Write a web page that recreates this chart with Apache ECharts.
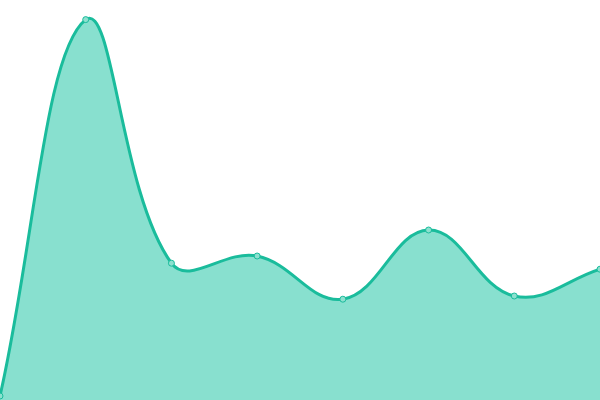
<!DOCTYPE html>
<html>
<head>
<meta charset="utf-8">
<script src="https://cdn.jsdelivr.net/npm/echarts@6/dist/echarts.min.js"></script>
<style>
    html, body { margin: 0; padding: 0; background: #fff; }
    #chart { width: 600px; height: 400px; }
</style>
</head>
<body>
<div id="chart"></div>
<script>
// data
var categories = ["1", "2", "3", "4", "5", "6", "7", "8"];
var values = [1, 95.1, 34.2, 36, 25.2, 42.5, 26, 32.7];

var lineColor = "#1abc9c";
var fillColor = "#88e0cf";
var tension = 0.4;

// spline through the points, control points along (next - prev)
function buildPath(pts, area) {
    var n = pts.length;
    var cps = [];
    for (var i = 0; i < n; i++) {
        var prev = pts[i > 0 ? i - 1 : i];
        var cur = pts[i];
        var next = pts[i < n - 1 ? i + 1 : i];
        var d01 = Math.hypot(cur[0] - prev[0], cur[1] - prev[1]);
        var d12 = Math.hypot(next[0] - cur[0], next[1] - cur[1]);
        var s01 = d01 / (d01 + d12 || 1);
        var s12 = d12 / (d01 + d12 || 1);
        var fa = tension * s01, fb = tension * s12;
        var vx = next[0] - prev[0], vy = next[1] - prev[1];
        var cpPrev = [cur[0] - fa * vx, cur[1] - fa * vy];
        var cpNext = [cur[0] + fb * vx, cur[1] + fb * vy];
        [cpPrev, cpNext].forEach(function(p) {
            p[0] = Math.min(Math.max(p[0], area.x), area.x + area.width);
            p[1] = Math.min(Math.max(p[1], area.y), area.y + area.height);
        });
        cps.push([cpPrev, cpNext]);
    }
    var d = "M" + pts[0][0] + " " + pts[0][1];
    for (var j = 1; j < n; j++) {
        var c1 = cps[j - 1][1], c2 = cps[j][0];
        d += " C" + c1[0] + " " + c1[1] + " " + c2[0] + " " + c2[1] + " " + pts[j][0] + " " + pts[j][1];
    }
    return d;
}

var myChart = echarts.init(document.getElementById("chart"));
var option = {
    animation: false,
    grid: { left: 0, right: 0, top: 0, bottom: 0 },
    xAxis: {
        type: "category",
        boundaryGap: false,
        show: false,
        data: categories
    },
    yAxis: {
        type: "value",
        min: 0,
        max: 100,
        show: false
    },
    series: [
        {
            type: "custom",
            data: [0],
            z: 1,
            renderItem: function(params, api) {
                var area = params.coordSys;
                var pts = values.map(function(v, i) {
                    return api.coord([i, v]);
                });
                var base = area.y + area.height;
                var curve = buildPath(pts, area);
                var fill = curve +
                    " L" + pts[pts.length - 1][0] + " " + base +
                    " L" + pts[0][0] + " " + base + " Z";
                return {
                    type: "group",
                    children: [
                        {
                            type: "path",
                            shape: { pathData: fill },
                            style: { fill: fillColor, stroke: null }
                        },
                        {
                            type: "path",
                            shape: { pathData: curve },
                            style: { fill: null, stroke: lineColor, lineWidth: 3 }
                        }
                    ]
                };
            }
        },
        {
            type: "line",
            data: values,
            z: 3,
            symbol: "circle",
            symbolSize: 6,
            lineStyle: { opacity: 0 },
            itemStyle: { color: "#8de0cf", borderColor: lineColor, borderWidth: 1 }
        }
    ]
};
myChart.setOption(option);
</script>
</body>
</html>
